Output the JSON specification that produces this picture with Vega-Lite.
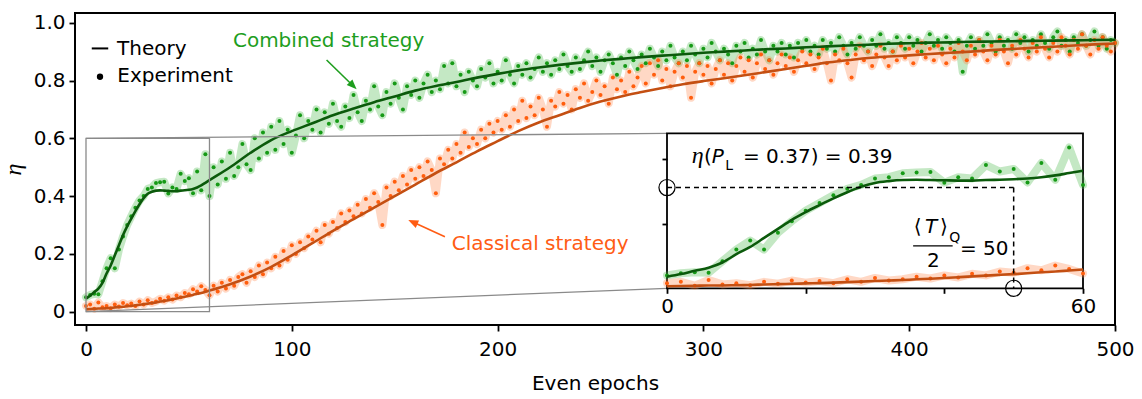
{
"$schema": "https://vega.github.io/schema/vega-lite/v6.json",
"width": 1040, "height": 312,
"autosize": "none",
"padding": {"left": 75, "top": 13, "right": 27, "bottom": 74},
"background": "white",
"config": {
 "view": {"stroke": "black", "strokeWidth": 2},
 "font": "DejaVu Sans",
 "axis": {"labelFont": "DejaVu Sans", "labelFontSize": 20, "labelColor": "black", "tickColor": "black", "tickWidth": 1.8, "domain": false, "grid": false, "titleFont": "DejaVu Sans", "titleFontSize": 20, "titleFontWeight": "normal", "titleColor": "black", "labelFlush": false},
 "text": {"font": "DejaVu Sans", "fontSize": 20}
},
"datasets": {
 "one": [{}],
 "exp": [
{"s":"g","x":0,"y":0.05},{"s":"g","x":2,"y":0.058},{"s":"g","x":4,"y":0.062},{"s":"g","x":6,"y":0.06},{"s":"g","x":8,"y":0.105},{"s":"g","x":10,"y":0.15},{"s":"g","x":12,"y":0.185},{"s":"g","x":14,"y":0.15},{"s":"g","x":16,"y":0.215},{"s":"g","x":18,"y":0.26},{"s":"g","x":20,"y":0.3},{"s":"g","x":22,"y":0.33},{"s":"g","x":24,"y":0.36},{"s":"g","x":26,"y":0.385},{"s":"g","x":28,"y":0.4},{"s":"g","x":30,"y":0.425},{"s":"g","x":32,"y":0.43},{"s":"g","x":34,"y":0.445},{"s":"g","x":36,"y":0.448},{"s":"g","x":38,"y":0.45},{"s":"g","x":40,"y":0.409},{"s":"g","x":42,"y":0.43},{"s":"g","x":44,"y":0.425},{"s":"g","x":46,"y":0.477},{"s":"g","x":48,"y":0.452},{"s":"g","x":50,"y":0.462},{"s":"g","x":52,"y":0.41},{"s":"g","x":54,"y":0.485},{"s":"g","x":56,"y":0.42},{"s":"g","x":58,"y":0.545},{"s":"g","x":60,"y":0.4},
{"s":"g","x":62,"y":0.5},{"s":"g","x":64,"y":0.44},{"s":"g","x":66,"y":0.52},{"s":"g","x":68,"y":0.46},{"s":"g","x":70,"y":0.55},{"s":"g","x":72,"y":0.47},{"s":"g","x":74,"y":0.5},{"s":"g","x":76,"y":0.58},{"s":"g","x":78,"y":0.51},{"s":"g","x":80,"y":0.49},
{"s":"g","x":82,"y":0.6},{"s":"g","x":84,"y":0.53},{"s":"g","x":86,"y":0.62},{"s":"g","x":88,"y":0.55},{"s":"g","x":90,"y":0.64},{"s":"g","x":92,"y":0.56},{"s":"g","x":94,"y":0.66},{"s":"g","x":96,"y":0.58},{"s":"g","x":98,"y":0.63},{"s":"g","x":100,"y":0.55},
{"s":"g","x":102,"y":0.61},{"s":"g","x":104,"y":0.68},{"s":"g","x":106,"y":0.6},{"s":"g","x":108,"y":0.66},{"s":"g","x":110,"y":0.63},{"s":"g","x":112,"y":0.7},{"s":"g","x":114,"y":0.62},{"s":"g","x":116,"y":0.69},{"s":"g","x":118,"y":0.65},{"s":"g","x":120,"y":0.72},
{"s":"g","x":122,"y":0.66},{"s":"g","x":124,"y":0.64},{"s":"g","x":126,"y":0.71},{"s":"g","x":128,"y":0.67},{"s":"g","x":130,"y":0.75},{"s":"g","x":132,"y":0.69},{"s":"g","x":134,"y":0.66},{"s":"g","x":136,"y":0.73},{"s":"g","x":138,"y":0.7},{"s":"g","x":140,"y":0.78},
{"s":"g","x":142,"y":0.71},{"s":"g","x":144,"y":0.68},{"s":"g","x":146,"y":0.76},{"s":"g","x":148,"y":0.72},{"s":"g","x":150,"y":0.79},{"s":"g","x":152,"y":0.74},{"s":"g","x":154,"y":0.7},{"s":"g","x":156,"y":0.78},{"s":"g","x":158,"y":0.75},{"s":"g","x":160,"y":0.8},
{"s":"g","x":162,"y":0.74},{"s":"g","x":164,"y":0.79},{"s":"g","x":166,"y":0.82},{"s":"g","x":168,"y":0.76},{"s":"g","x":170,"y":0.8},{"s":"g","x":172,"y":0.77},{"s":"g","x":174,"y":0.85},{"s":"g","x":176,"y":0.79},{"s":"g","x":178,"y":0.86},{"s":"g","x":180,"y":0.78},
{"s":"g","x":182,"y":0.82},{"s":"g","x":184,"y":0.76},{"s":"g","x":186,"y":0.83},{"s":"g","x":188,"y":0.8},{"s":"g","x":190,"y":0.78},{"s":"g","x":192,"y":0.84},{"s":"g","x":194,"y":0.81},{"s":"g","x":196,"y":0.86},{"s":"g","x":198,"y":0.79},{"s":"g","x":200,"y":0.83},
{"s":"g","x":202,"y":0.8},{"s":"g","x":204,"y":0.87},{"s":"g","x":206,"y":0.82},{"s":"g","x":208,"y":0.79},{"s":"g","x":210,"y":0.85},{"s":"g","x":212,"y":0.82},{"s":"g","x":214,"y":0.86},{"s":"g","x":216,"y":0.81},{"s":"g","x":218,"y":0.84},{"s":"g","x":220,"y":0.88},
{"s":"g","x":222,"y":0.83},{"s":"g","x":224,"y":0.86},{"s":"g","x":226,"y":0.82},{"s":"g","x":228,"y":0.87},{"s":"g","x":230,"y":0.84},{"s":"g","x":232,"y":0.89},{"s":"g","x":234,"y":0.85},{"s":"g","x":236,"y":0.83},{"s":"g","x":238,"y":0.88},{"s":"g","x":240,"y":0.84},
{"s":"g","x":242,"y":0.87},{"s":"g","x":244,"y":0.9},{"s":"g","x":246,"y":0.85},{"s":"g","x":248,"y":0.88},{"s":"g","x":250,"y":0.83},{"s":"g","x":252,"y":0.87},{"s":"g","x":254,"y":0.89},{"s":"g","x":256,"y":0.86},{"s":"g","x":258,"y":0.82},{"s":"g","x":260,"y":0.88},
{"s":"g","x":262,"y":0.85},{"s":"g","x":264,"y":0.9},{"s":"g","x":266,"y":0.87},{"s":"g","x":268,"y":0.84},{"s":"g","x":270,"y":0.89},{"s":"g","x":272,"y":0.86},{"s":"g","x":274,"y":0.91},{"s":"g","x":276,"y":0.88},{"s":"g","x":278,"y":0.85},{"s":"g","x":280,"y":0.9},
{"s":"g","x":282,"y":0.87},{"s":"g","x":284,"y":0.92},{"s":"g","x":286,"y":0.88},{"s":"g","x":288,"y":0.86},{"s":"g","x":290,"y":0.9},{"s":"g","x":292,"y":0.87},{"s":"g","x":294,"y":0.92},{"s":"g","x":296,"y":0.89},{"s":"g","x":298,"y":0.86},{"s":"g","x":300,"y":0.91},
{"s":"g","x":302,"y":0.88},{"s":"g","x":304,"y":0.93},{"s":"g","x":306,"y":0.9},{"s":"g","x":308,"y":0.87},{"s":"g","x":310,"y":0.91},{"s":"g","x":312,"y":0.89},{"s":"g","x":314,"y":0.86},{"s":"g","x":316,"y":0.92},{"s":"g","x":318,"y":0.9},{"s":"g","x":320,"y":0.93},
{"s":"g","x":322,"y":0.88},{"s":"g","x":324,"y":0.91},{"s":"g","x":326,"y":0.89},{"s":"g","x":328,"y":0.94},{"s":"g","x":330,"y":0.9},{"s":"g","x":332,"y":0.87},{"s":"g","x":334,"y":0.92},{"s":"g","x":336,"y":0.9},{"s":"g","x":338,"y":0.93},{"s":"g","x":340,"y":0.89},
{"s":"g","x":342,"y":0.92},{"s":"g","x":344,"y":0.88},{"s":"g","x":346,"y":0.93},{"s":"g","x":348,"y":0.91},{"s":"g","x":350,"y":0.94},{"s":"g","x":352,"y":0.9},{"s":"g","x":354,"y":0.92},{"s":"g","x":356,"y":0.89},{"s":"g","x":358,"y":0.94},{"s":"g","x":360,"y":0.91},
{"s":"g","x":362,"y":0.93},{"s":"g","x":364,"y":0.9},{"s":"g","x":366,"y":0.95},{"s":"g","x":368,"y":0.92},{"s":"g","x":370,"y":0.89},{"s":"g","x":372,"y":0.93},{"s":"g","x":374,"y":0.91},{"s":"g","x":376,"y":0.95},{"s":"g","x":378,"y":0.92},{"s":"g","x":380,"y":0.9},
{"s":"g","x":382,"y":0.94},{"s":"g","x":384,"y":0.92},{"s":"g","x":386,"y":0.96},{"s":"g","x":388,"y":0.91},{"s":"g","x":390,"y":0.93},{"s":"g","x":392,"y":0.9},{"s":"g","x":394,"y":0.95},{"s":"g","x":396,"y":0.93},{"s":"g","x":398,"y":0.91},{"s":"g","x":400,"y":0.95},
{"s":"g","x":402,"y":0.92},{"s":"g","x":404,"y":0.94},{"s":"g","x":406,"y":0.9},{"s":"g","x":408,"y":0.93},{"s":"g","x":410,"y":0.96},{"s":"g","x":412,"y":0.92},{"s":"g","x":414,"y":0.94},{"s":"g","x":416,"y":0.91},{"s":"g","x":418,"y":0.95},{"s":"g","x":420,"y":0.93},
{"s":"g","x":422,"y":0.9},{"s":"g","x":424,"y":0.94},{"s":"g","x":426,"y":0.83},{"s":"g","x":428,"y":0.92},{"s":"g","x":430,"y":0.95},{"s":"g","x":432,"y":0.91},{"s":"g","x":434,"y":0.94},{"s":"g","x":436,"y":0.92},{"s":"g","x":438,"y":0.96},{"s":"g","x":440,"y":0.93},
{"s":"g","x":442,"y":0.9},{"s":"g","x":444,"y":0.95},{"s":"g","x":446,"y":0.92},{"s":"g","x":448,"y":0.94},{"s":"g","x":450,"y":0.91},{"s":"g","x":452,"y":0.96},{"s":"g","x":454,"y":0.93},{"s":"g","x":456,"y":0.95},{"s":"g","x":458,"y":0.9},{"s":"g","x":460,"y":0.94},
{"s":"g","x":462,"y":0.92},{"s":"g","x":464,"y":0.96},{"s":"g","x":466,"y":0.93},{"s":"g","x":468,"y":0.91},{"s":"g","x":470,"y":0.95},{"s":"g","x":472,"y":0.97},{"s":"g","x":474,"y":0.92},{"s":"g","x":476,"y":0.94},{"s":"g","x":478,"y":0.9},{"s":"g","x":480,"y":0.95},
{"s":"g","x":482,"y":0.93},{"s":"g","x":484,"y":0.96},{"s":"g","x":486,"y":0.92},{"s":"g","x":488,"y":0.94},{"s":"g","x":490,"y":0.97},{"s":"g","x":492,"y":0.92},{"s":"g","x":494,"y":0.95},{"s":"g","x":496,"y":0.91},{"s":"g","x":498,"y":0.94},{"s":"g","x":500,"y":0.93},
{"s":"o","x":0,"y":0.02},{"s":"o","x":2,"y":0.025},{"s":"o","x":4,"y":0.01},{"s":"o","x":6,"y":0.032},{"s":"o","x":8,"y":0.015},{"s":"o","x":10,"y":0.02},{"s":"o","x":12,"y":0.012},{"s":"o","x":14,"y":0.025},{"s":"o","x":16,"y":0.018},{"s":"o","x":18,"y":0.03},{"s":"o","x":20,"y":0.022},{"s":"o","x":22,"y":0.028},{"s":"o","x":24,"y":0.02},{"s":"o","x":26,"y":0.035},{"s":"o","x":28,"y":0.025},{"s":"o","x":30,"y":0.04},{"s":"o","x":32,"y":0.03},{"s":"o","x":34,"y":0.035},{"s":"o","x":36,"y":0.045},{"s":"o","x":38,"y":0.038},{"s":"o","x":40,"y":0.05},{"s":"o","x":42,"y":0.042},{"s":"o","x":44,"y":0.056},{"s":"o","x":46,"y":0.05},{"s":"o","x":48,"y":0.065},{"s":"o","x":50,"y":0.06},{"s":"o","x":52,"y":0.078},{"s":"o","x":54,"y":0.07},{"s":"o","x":56,"y":0.088},{"s":"o","x":58,"y":0.075},{"s":"o","x":60,"y":0.057},
{"s":"o","x":62,"y":0.09},{"s":"o","x":64,"y":0.07},{"s":"o","x":66,"y":0.1},{"s":"o","x":68,"y":0.08},{"s":"o","x":70,"y":0.11},{"s":"o","x":72,"y":0.09},{"s":"o","x":74,"y":0.12},{"s":"o","x":76,"y":0.13},{"s":"o","x":78,"y":0.1},{"s":"o","x":80,"y":0.14},
{"s":"o","x":82,"y":0.12},{"s":"o","x":84,"y":0.16},{"s":"o","x":86,"y":0.13},{"s":"o","x":88,"y":0.17},{"s":"o","x":90,"y":0.15},{"s":"o","x":92,"y":0.19},{"s":"o","x":94,"y":0.16},{"s":"o","x":96,"y":0.21},{"s":"o","x":98,"y":0.18},{"s":"o","x":100,"y":0.23},
{"s":"o","x":102,"y":0.2},{"s":"o","x":104,"y":0.24},{"s":"o","x":106,"y":0.22},{"s":"o","x":108,"y":0.26},{"s":"o","x":110,"y":0.25},{"s":"o","x":112,"y":0.28},{"s":"o","x":114,"y":0.24},{"s":"o","x":116,"y":0.3},{"s":"o","x":118,"y":0.27},{"s":"o","x":120,"y":0.31},
{"s":"o","x":122,"y":0.29},{"s":"o","x":124,"y":0.34},{"s":"o","x":126,"y":0.31},{"s":"o","x":128,"y":0.35},{"s":"o","x":130,"y":0.33},{"s":"o","x":132,"y":0.37},{"s":"o","x":134,"y":0.34},{"s":"o","x":136,"y":0.39},{"s":"o","x":138,"y":0.36},{"s":"o","x":140,"y":0.41},
{"s":"o","x":142,"y":0.38},{"s":"o","x":144,"y":0.3},{"s":"o","x":146,"y":0.43},{"s":"o","x":148,"y":0.4},{"s":"o","x":150,"y":0.45},{"s":"o","x":152,"y":0.42},{"s":"o","x":154,"y":0.47},{"s":"o","x":156,"y":0.44},{"s":"o","x":158,"y":0.49},{"s":"o","x":160,"y":0.46},
{"s":"o","x":162,"y":0.5},{"s":"o","x":164,"y":0.47},{"s":"o","x":166,"y":0.52},{"s":"o","x":168,"y":0.49},{"s":"o","x":170,"y":0.41},{"s":"o","x":172,"y":0.53},{"s":"o","x":174,"y":0.51},{"s":"o","x":176,"y":0.56},{"s":"o","x":178,"y":0.53},{"s":"o","x":180,"y":0.58},
{"s":"o","x":182,"y":0.55},{"s":"o","x":184,"y":0.62},{"s":"o","x":186,"y":0.57},{"s":"o","x":188,"y":0.6},{"s":"o","x":190,"y":0.58},{"s":"o","x":192,"y":0.63},{"s":"o","x":194,"y":0.6},{"s":"o","x":196,"y":0.65},{"s":"o","x":198,"y":0.62},{"s":"o","x":200,"y":0.66},
{"s":"o","x":202,"y":0.63},{"s":"o","x":204,"y":0.68},{"s":"o","x":206,"y":0.64},{"s":"o","x":208,"y":0.7},{"s":"o","x":210,"y":0.66},{"s":"o","x":212,"y":0.73},{"s":"o","x":214,"y":0.67},{"s":"o","x":216,"y":0.71},{"s":"o","x":218,"y":0.68},{"s":"o","x":220,"y":0.74},
{"s":"o","x":222,"y":0.7},{"s":"o","x":224,"y":0.64},{"s":"o","x":226,"y":0.73},{"s":"o","x":228,"y":0.71},{"s":"o","x":230,"y":0.76},{"s":"o","x":232,"y":0.72},{"s":"o","x":234,"y":0.75},{"s":"o","x":236,"y":0.7},{"s":"o","x":238,"y":0.77},{"s":"o","x":240,"y":0.74},
{"s":"o","x":242,"y":0.79},{"s":"o","x":244,"y":0.73},{"s":"o","x":246,"y":0.76},{"s":"o","x":248,"y":0.8},{"s":"o","x":250,"y":0.75},{"s":"o","x":252,"y":0.78},{"s":"o","x":254,"y":0.72},{"s":"o","x":256,"y":0.81},{"s":"o","x":258,"y":0.77},{"s":"o","x":260,"y":0.8},
{"s":"o","x":262,"y":0.76},{"s":"o","x":264,"y":0.83},{"s":"o","x":266,"y":0.78},{"s":"o","x":268,"y":0.81},{"s":"o","x":270,"y":0.85},{"s":"o","x":272,"y":0.79},{"s":"o","x":274,"y":0.86},{"s":"o","x":276,"y":0.82},{"s":"o","x":278,"y":0.87},{"s":"o","x":280,"y":0.8},
{"s":"o","x":282,"y":0.84},{"s":"o","x":284,"y":0.78},{"s":"o","x":286,"y":0.83},{"s":"o","x":288,"y":0.86},{"s":"o","x":290,"y":0.81},{"s":"o","x":292,"y":0.85},{"s":"o","x":294,"y":0.74},{"s":"o","x":296,"y":0.83},{"s":"o","x":298,"y":0.86},{"s":"o","x":300,"y":0.82},
{"s":"o","x":302,"y":0.85},{"s":"o","x":304,"y":0.79},{"s":"o","x":306,"y":0.84},{"s":"o","x":308,"y":0.87},{"s":"o","x":310,"y":0.82},{"s":"o","x":312,"y":0.86},{"s":"o","x":314,"y":0.8},{"s":"o","x":316,"y":0.85},{"s":"o","x":318,"y":0.88},{"s":"o","x":320,"y":0.83},
{"s":"o","x":322,"y":0.87},{"s":"o","x":324,"y":0.81},{"s":"o","x":326,"y":0.86},{"s":"o","x":328,"y":0.89},{"s":"o","x":330,"y":0.84},{"s":"o","x":332,"y":0.87},{"s":"o","x":334,"y":0.82},{"s":"o","x":336,"y":0.86},{"s":"o","x":338,"y":0.89},{"s":"o","x":340,"y":0.85},
{"s":"o","x":342,"y":0.88},{"s":"o","x":344,"y":0.83},{"s":"o","x":346,"y":0.87},{"s":"o","x":348,"y":0.9},{"s":"o","x":350,"y":0.86},{"s":"o","x":352,"y":0.89},{"s":"o","x":354,"y":0.84},{"s":"o","x":356,"y":0.88},{"s":"o","x":358,"y":0.91},{"s":"o","x":360,"y":0.86},
{"s":"o","x":362,"y":0.8},{"s":"o","x":364,"y":0.89},{"s":"o","x":366,"y":0.87},{"s":"o","x":368,"y":0.91},{"s":"o","x":370,"y":0.86},{"s":"o","x":372,"y":0.81},{"s":"o","x":374,"y":0.89},{"s":"o","x":376,"y":0.92},{"s":"o","x":378,"y":0.87},{"s":"o","x":380,"y":0.9},
{"s":"o","x":382,"y":0.85},{"s":"o","x":384,"y":0.89},{"s":"o","x":386,"y":0.92},{"s":"o","x":388,"y":0.88},{"s":"o","x":390,"y":0.85},{"s":"o","x":392,"y":0.9},{"s":"o","x":394,"y":0.87},{"s":"o","x":396,"y":0.92},{"s":"o","x":398,"y":0.88},{"s":"o","x":400,"y":0.91},
{"s":"o","x":402,"y":0.86},{"s":"o","x":404,"y":0.9},{"s":"o","x":406,"y":0.93},{"s":"o","x":408,"y":0.88},{"s":"o","x":410,"y":0.91},{"s":"o","x":412,"y":0.87},{"s":"o","x":414,"y":0.92},{"s":"o","x":416,"y":0.89},{"s":"o","x":418,"y":0.86},{"s":"o","x":420,"y":0.91},
{"s":"o","x":422,"y":0.88},{"s":"o","x":424,"y":0.93},{"s":"o","x":426,"y":0.9},{"s":"o","x":428,"y":0.87},{"s":"o","x":430,"y":0.92},{"s":"o","x":432,"y":0.89},{"s":"o","x":434,"y":0.94},{"s":"o","x":436,"y":0.9},{"s":"o","x":438,"y":0.87},{"s":"o","x":440,"y":0.92},
{"s":"o","x":442,"y":0.89},{"s":"o","x":444,"y":0.94},{"s":"o","x":446,"y":0.9},{"s":"o","x":448,"y":0.86},{"s":"o","x":450,"y":0.92},{"s":"o","x":452,"y":0.89},{"s":"o","x":454,"y":0.94},{"s":"o","x":456,"y":0.91},{"s":"o","x":458,"y":0.88},{"s":"o","x":460,"y":0.93},
{"s":"o","x":462,"y":0.9},{"s":"o","x":464,"y":0.95},{"s":"o","x":466,"y":0.91},{"s":"o","x":468,"y":0.88},{"s":"o","x":470,"y":0.93},{"s":"o","x":472,"y":0.9},{"s":"o","x":474,"y":0.95},{"s":"o","x":476,"y":0.92},{"s":"o","x":478,"y":0.89},{"s":"o","x":480,"y":0.94},
{"s":"o","x":482,"y":0.91},{"s":"o","x":484,"y":0.96},{"s":"o","x":486,"y":0.92},{"s":"o","x":488,"y":0.89},{"s":"o","x":490,"y":0.94},{"s":"o","x":492,"y":0.91},{"s":"o","x":494,"y":0.95},{"s":"o","x":496,"y":0.92},{"s":"o","x":498,"y":0.9},{"s":"o","x":500,"y":0.93}
 ],
 "th": [
{"s":"g","x":0,"y":0.045},{"s":"g","x":2,"y":0.055},{"s":"g","x":4,"y":0.068},{"s":"g","x":6,"y":0.08},{"s":"g","x":8,"y":0.1},{"s":"g","x":10,"y":0.132},{"s":"g","x":12,"y":0.16},{"s":"g","x":14,"y":0.195},{"s":"g","x":16,"y":0.23},{"s":"g","x":18,"y":0.265},{"s":"g","x":20,"y":0.295},{"s":"g","x":22,"y":0.322},{"s":"g","x":24,"y":0.348},{"s":"g","x":26,"y":0.372},{"s":"g","x":28,"y":0.393},{"s":"g","x":30,"y":0.408},{"s":"g","x":32,"y":0.415},{"s":"g","x":34,"y":0.419},{"s":"g","x":36,"y":0.42},{"s":"g","x":38,"y":0.419},{"s":"g","x":40,"y":0.418},{"s":"g","x":42,"y":0.417},{"s":"g","x":44,"y":0.417},{"s":"g","x":46,"y":0.419},{"s":"g","x":48,"y":0.42},{"s":"g","x":50,"y":0.422},{"s":"g","x":52,"y":0.425},{"s":"g","x":54,"y":0.43},{"s":"g","x":56,"y":0.437},{"s":"g","x":58,"y":0.446},{"s":"g","x":60,"y":0.455},
{"s":"g","x":70,"y":0.5},{"s":"g","x":80,"y":0.55},{"s":"g","x":90,"y":0.594},{"s":"g","x":100,"y":0.625},{"s":"g","x":110,"y":0.652},{"s":"g","x":120,"y":0.68},{"s":"g","x":130,"y":0.703},{"s":"g","x":140,"y":0.725},{"s":"g","x":150,"y":0.745},{"s":"g","x":160,"y":0.765},{"s":"g","x":170,"y":0.781},{"s":"g","x":180,"y":0.795},{"s":"g","x":190,"y":0.81},{"s":"g","x":200,"y":0.823},{"s":"g","x":210,"y":0.835},{"s":"g","x":220,"y":0.845},{"s":"g","x":230,"y":0.854},{"s":"g","x":240,"y":0.862},{"s":"g","x":250,"y":0.869},{"s":"g","x":260,"y":0.875},{"s":"g","x":270,"y":0.881},{"s":"g","x":280,"y":0.886},{"s":"g","x":290,"y":0.891},{"s":"g","x":300,"y":0.896},{"s":"g","x":310,"y":0.9},{"s":"g","x":320,"y":0.904},{"s":"g","x":330,"y":0.908},{"s":"g","x":340,"y":0.911},{"s":"g","x":350,"y":0.915},{"s":"g","x":360,"y":0.918},{"s":"g","x":370,"y":0.921},{"s":"g","x":380,"y":0.924},{"s":"g","x":390,"y":0.927},{"s":"g","x":400,"y":0.929},{"s":"g","x":410,"y":0.931},{"s":"g","x":420,"y":0.932},{"s":"g","x":430,"y":0.934},{"s":"g","x":440,"y":0.935},{"s":"g","x":450,"y":0.936},{"s":"g","x":460,"y":0.937},{"s":"g","x":470,"y":0.938},{"s":"g","x":480,"y":0.939},{"s":"g","x":490,"y":0.94},{"s":"g","x":500,"y":0.941},
{"s":"o","x":0,"y":0.008},{"s":"o","x":2,"y":0.009},{"s":"o","x":4,"y":0.01},{"s":"o","x":6,"y":0.011},{"s":"o","x":8,"y":0.011},{"s":"o","x":10,"y":0.012},{"s":"o","x":12,"y":0.013},{"s":"o","x":14,"y":0.015},{"s":"o","x":16,"y":0.016},{"s":"o","x":18,"y":0.017},{"s":"o","x":20,"y":0.019},{"s":"o","x":22,"y":0.02},{"s":"o","x":24,"y":0.022},{"s":"o","x":26,"y":0.024},{"s":"o","x":28,"y":0.026},{"s":"o","x":30,"y":0.028},{"s":"o","x":32,"y":0.03},{"s":"o","x":34,"y":0.032},{"s":"o","x":36,"y":0.035},{"s":"o","x":38,"y":0.037},{"s":"o","x":40,"y":0.04},{"s":"o","x":42,"y":0.043},{"s":"o","x":44,"y":0.046},{"s":"o","x":46,"y":0.049},{"s":"o","x":48,"y":0.052},{"s":"o","x":50,"y":0.055},{"s":"o","x":52,"y":0.058},{"s":"o","x":54,"y":0.062},{"s":"o","x":56,"y":0.065},{"s":"o","x":58,"y":0.069},{"s":"o","x":60,"y":0.073},
{"s":"o","x":70,"y":0.095},{"s":"o","x":80,"y":0.122},{"s":"o","x":90,"y":0.155},{"s":"o","x":100,"y":0.195},{"s":"o","x":110,"y":0.237},{"s":"o","x":120,"y":0.28},{"s":"o","x":130,"y":0.32},{"s":"o","x":140,"y":0.36},{"s":"o","x":150,"y":0.4},{"s":"o","x":160,"y":0.44},{"s":"o","x":170,"y":0.48},{"s":"o","x":180,"y":0.517},{"s":"o","x":190,"y":0.555},{"s":"o","x":200,"y":0.59},{"s":"o","x":210,"y":0.625},{"s":"o","x":220,"y":0.655},{"s":"o","x":230,"y":0.68},{"s":"o","x":240,"y":0.705},{"s":"o","x":250,"y":0.727},{"s":"o","x":260,"y":0.745},{"s":"o","x":270,"y":0.76},{"s":"o","x":280,"y":0.774},{"s":"o","x":290,"y":0.787},{"s":"o","x":300,"y":0.798},{"s":"o","x":310,"y":0.808},{"s":"o","x":320,"y":0.818},{"s":"o","x":330,"y":0.829},{"s":"o","x":340,"y":0.84},{"s":"o","x":350,"y":0.851},{"s":"o","x":360,"y":0.862},{"s":"o","x":370,"y":0.87},{"s":"o","x":380,"y":0.878},{"s":"o","x":390,"y":0.883},{"s":"o","x":400,"y":0.887},{"s":"o","x":410,"y":0.892},{"s":"o","x":420,"y":0.896},{"s":"o","x":430,"y":0.9},{"s":"o","x":440,"y":0.905},{"s":"o","x":450,"y":0.909},{"s":"o","x":460,"y":0.913},{"s":"o","x":470,"y":0.917},{"s":"o","x":480,"y":0.921},{"s":"o","x":490,"y":0.925},{"s":"o","x":500,"y":0.928}
 ]
},
"layer": [
 {
  "resolve": {"scale": {"color": "independent"}},
  "layer": [
   {"data": {"name": "exp"},
    "mark": {"type": "line", "strokeWidth": 8, "opacity": 0.33, "strokeJoin": "round", "strokeCap": "round"},
    "encoding": {
     "x": {"field": "x", "type": "quantitative", "scale": {"domain": [-5.345, 500], "nice": false, "zero": false},
       "axis": {"orient": "bottom", "values": [0,100,200,300,400,500], "format": "d", "tickSize": 6, "labelPadding": 8, "title": "Even epochs", "titlePadding": 14}},
     "y": {"field": "y", "type": "quantitative", "scale": {"domain": [-0.046, 1.0336], "nice": false, "zero": false},
       "axis": {"orient": "left", "values": [0,0.2,0.4,0.6,0.8,1], "labelExpr": "datum.value == 0 ? '0' : format(datum.value, '.1f')", "tickSize": 6, "labelPadding": 4, "title": "η", "titleFont": "Liberation Serif", "titleFontStyle": "italic", "titleFontSize": 24, "titlePadding": 8}},
     "color": {"field": "s", "type": "nominal", "scale": {"domain": ["g","o"], "range": ["#4cb84c","#ff8a50"]}, "legend": null}
    }},
   {"data": {"name": "exp"},
    "mark": {"type": "circle", "size": 16, "opacity": 1},
    "encoding": {
     "x": {"field": "x", "type": "quantitative"},
     "y": {"field": "y", "type": "quantitative"},
     "color": {"field": "s", "type": "nominal", "scale": {"domain": ["g","o"], "range": ["#169a16","#ff5e0e"]}, "legend": null}
    }},
   {"data": {"name": "th"},
    "mark": {"type": "line", "strokeWidth": 2.6, "interpolate": "monotone"},
    "encoding": {
     "x": {"field": "x", "type": "quantitative"},
     "y": {"field": "y", "type": "quantitative"},
     "color": {"field": "s", "type": "nominal", "scale": {"domain": ["g","o"], "range": ["#0b5a0b","#c44f12"]}, "legend": null}
    }},
   {"data": {"name": "one"}, "mark": {"type": "rect", "fillOpacity": 0, "stroke": "#8a8a8a", "strokeWidth": 1.3},
    "encoding": {"x": {"datum": 0, "type": "quantitative"}, "x2": {"datum": 60}, "y": {"datum": 0, "type": "quantitative"}, "y2": {"datum": 0.6}}},
   {"data": {"name": "one"}, "mark": {"type": "rule", "stroke": "#8a8a8a", "strokeWidth": 1.3},
    "encoding": {"x": {"datum": 0, "type": "quantitative"}, "x2": {"datum": 282.3}, "y": {"datum": 0.6, "type": "quantitative"}, "y2": {"datum": 0.617}}},
   {"data": {"name": "one"}, "mark": {"type": "rule", "stroke": "#8a8a8a", "strokeWidth": 1.3},
    "encoding": {"x": {"datum": 0, "type": "quantitative"}, "x2": {"datum": 282.3}, "y": {"datum": 0, "type": "quantitative"}, "y2": {"datum": 0.081}}},
   {"data": {"name": "one"}, "mark": {"type": "rule", "stroke": "black", "strokeWidth": 2},
    "encoding": {"x": {"datum": 2.8, "type": "quantitative"}, "x2": {"datum": 10.8}, "y": {"datum": 0.911, "type": "quantitative"}}},
   {"data": {"name": "one"}, "mark": {"type": "circle", "size": 40, "color": "black", "opacity": 1},
    "encoding": {"x": {"datum": 6.8, "type": "quantitative"}, "y": {"datum": 0.813, "type": "quantitative"}}},
   {"data": {"name": "one"}, "mark": {"type": "text", "text": "Theory", "align": "left", "baseline": "alphabetic", "color": "black"},
    "encoding": {"x": {"datum": 15.1, "type": "quantitative"}, "y": {"datum": 0.888, "type": "quantitative"}}},
   {"data": {"name": "one"}, "mark": {"type": "text", "text": "Experiment", "align": "left", "baseline": "alphabetic", "color": "black"},
    "encoding": {"x": {"datum": 15.2, "type": "quantitative"}, "y": {"datum": 0.796, "type": "quantitative"}}},
   {"data": {"name": "one"}, "mark": {"type": "text", "text": "Combined strategy", "align": "left", "baseline": "alphabetic", "color": "#1e9e1e"},
    "encoding": {"x": {"datum": 71.4, "type": "quantitative"}, "y": {"datum": 0.916, "type": "quantitative"}}},
   {"data": {"name": "one"}, "mark": {"type": "text", "text": "Classical strategy", "align": "left", "baseline": "alphabetic", "color": "#ff5c14"},
    "encoding": {"x": {"datum": 177.7, "type": "quantitative"}, "y": {"datum": 0.2135, "type": "quantitative"}}},
   {"data": {"name": "one"}, "mark": {"type": "rule", "stroke": "#1e9e1e", "strokeWidth": 1.6},
    "encoding": {"x": {"datum": 116.9, "type": "quantitative"}, "x2": {"datum": 130}, "y": {"datum": 0.871, "type": "quantitative"}, "y2": {"datum": 0.78}}},
   {"data": {"name": "one"}, "mark": {"type": "point", "shape": "M0,0L-0.8,2L0.8,2Z", "size": 100, "angle": 135, "filled": true, "color": "#1e9e1e", "opacity": 1},
    "encoding": {"x": {"datum": 131.5, "type": "quantitative"}, "y": {"datum": 0.7696, "type": "quantitative"}}},
   {"data": {"name": "one"}, "mark": {"type": "rule", "stroke": "#ff5c14", "strokeWidth": 1.6},
    "encoding": {"x": {"datum": 174.4, "type": "quantitative"}, "x2": {"datum": 158.5}, "y": {"datum": 0.2595, "type": "quantitative"}, "y2": {"datum": 0.311}}},
   {"data": {"name": "one"}, "mark": {"type": "point", "shape": "M0,0L-0.8,2L0.8,2Z", "size": 100, "angle": 294.5, "filled": true, "color": "#ff5c14", "opacity": 1},
    "encoding": {"x": {"datum": 156.6, "type": "quantitative"}, "y": {"datum": 0.317, "type": "quantitative"}}}
  ]
 },
 {
  "resolve": {"scale": {"color": "independent"}},
  "layer": [
   {"data": {"name": "one"}, "mark": {"type": "rect", "fill": "white", "stroke": "black", "strokeWidth": 1.8},
    "encoding": {
     "x": {"datum": 0, "type": "quantitative", "scale": {"domain": [0, 60], "range": [592, 1008], "nice": false, "zero": false},
       "axis": {"orient": "bottom", "offset": -36.7, "values": [0,20,40,60], "labelExpr": "datum.value == 0 || datum.value == 60 ? datum.label : ''", "tickSize": 5, "labelPadding": 3, "labelFlush": false, "title": null, "zindex": 1}},
     "x2": {"datum": 60},
     "y": {"datum": 0, "type": "quantitative", "scale": {"domain": [0, 0.6], "range": [275.3, 120.3], "nice": false, "zero": false},
       "axis": {"orient": "left", "offset": -592, "values": [0.25, 0.5], "labels": false, "tickSize": 5, "title": null, "zindex": 1}},
     "y2": {"datum": 0.6}
    }},
   {"data": {"name": "exp"}, "transform": [{"filter": "datum.x <= 60"}],
    "mark": {"type": "line", "strokeWidth": 8, "opacity": 0.33, "strokeJoin": "round", "strokeCap": "round"},
    "encoding": {
     "x": {"field": "x", "type": "quantitative"},
     "y": {"field": "y", "type": "quantitative"},
     "color": {"field": "s", "type": "nominal", "scale": {"domain": ["g","o"], "range": ["#4cb84c","#ff8a50"]}, "legend": null}
    }},
   {"data": {"name": "exp"}, "transform": [{"filter": "datum.x <= 60"}],
    "mark": {"type": "circle", "size": 16, "opacity": 1},
    "encoding": {
     "x": {"field": "x", "type": "quantitative"},
     "y": {"field": "y", "type": "quantitative"},
     "color": {"field": "s", "type": "nominal", "scale": {"domain": ["g","o"], "range": ["#169a16","#ff5e0e"]}, "legend": null}
    }},
   {"data": {"name": "th"}, "transform": [{"filter": "datum.x <= 60"}],
    "mark": {"type": "line", "strokeWidth": 2.6, "interpolate": "monotone"},
    "encoding": {
     "x": {"field": "x", "type": "quantitative"},
     "y": {"field": "y", "type": "quantitative"},
     "color": {"field": "s", "type": "nominal", "scale": {"domain": ["g","o"], "range": ["#0b5a0b","#c44f12"]}, "legend": null}
    }},
   {"data": {"name": "one"}, "mark": {"type": "rule", "stroke": "black", "strokeWidth": 1.5, "strokeDash": [5, 4]},
    "encoding": {"x": {"datum": 0, "type": "quantitative"}, "x2": {"datum": 50}, "y": {"datum": 0.39, "type": "quantitative"}}},
   {"data": {"name": "one"}, "mark": {"type": "rule", "stroke": "black", "strokeWidth": 1.5, "strokeDash": [5, 4]},
    "encoding": {"x": {"datum": 50, "type": "quantitative"}, "y": {"datum": 0.39, "type": "quantitative"}, "y2": {"datum": 0}}},
   {"data": {"values": [{"x": 0, "y": 0.39}, {"x": 50, "y": 0}]},
    "mark": {"type": "point", "shape": "circle", "size": 260, "filled": false, "stroke": "black", "strokeWidth": 1.2, "opacity": 1},
    "encoding": {"x": {"field": "x", "type": "quantitative"}, "y": {"field": "y", "type": "quantitative"}}},
   {"data": {"name": "one"}, "mark": {"type": "text", "text": "η", "align": "left", "baseline": "alphabetic", "font": "Liberation Serif", "fontStyle": "italic", "fontSize": 24, "color": "black"},
    "encoding": {"x": {"datum": 3.56, "type": "quantitative"}, "y": {"datum": 0.485, "type": "quantitative"}}},
   {"data": {"name": "one"}, "mark": {"type": "text", "text": "(", "align": "left", "baseline": "alphabetic", "color": "black"},
    "encoding": {"x": {"datum": 5.34, "type": "quantitative"}, "y": {"datum": 0.485, "type": "quantitative"}}},
   {"data": {"name": "one"}, "mark": {"type": "text", "text": "P", "align": "left", "baseline": "alphabetic", "fontStyle": "italic", "color": "black"},
    "encoding": {"x": {"datum": 6.45, "type": "quantitative"}, "y": {"datum": 0.485, "type": "quantitative"}}},
   {"data": {"name": "one"}, "mark": {"type": "text", "text": "L", "align": "left", "baseline": "alphabetic", "fontSize": 14, "color": "black"},
    "encoding": {"x": {"datum": 8.4, "type": "quantitative"}, "y": {"datum": 0.458, "type": "quantitative"}}},
   {"data": {"name": "one"}, "mark": {"type": "text", "text": "= 0.37) = 0.39", "align": "left", "baseline": "alphabetic", "color": "black"},
    "encoding": {"x": {"datum": 10.96, "type": "quantitative"}, "y": {"datum": 0.485, "type": "quantitative"}}},
   {"data": {"name": "one"}, "mark": {"type": "text", "text": "⟨", "align": "left", "baseline": "alphabetic", "color": "black"},
    "encoding": {"x": {"datum": 35.6, "type": "quantitative"}, "y": {"datum": 0.213, "type": "quantitative"}}},
   {"data": {"name": "one"}, "mark": {"type": "text", "text": "T", "align": "center", "baseline": "alphabetic", "fontStyle": "italic", "color": "black"},
    "encoding": {"x": {"datum": 38.1, "type": "quantitative"}, "y": {"datum": 0.213, "type": "quantitative"}}},
   {"data": {"name": "one"}, "mark": {"type": "text", "text": "⟩", "align": "right", "baseline": "alphabetic", "color": "black"},
    "encoding": {"x": {"datum": 40.5, "type": "quantitative"}, "y": {"datum": 0.213, "type": "quantitative"}}},
   {"data": {"name": "one"}, "mark": {"type": "text", "text": "Q", "align": "left", "baseline": "alphabetic", "fontSize": 14, "color": "black"},
    "encoding": {"x": {"datum": 40.7, "type": "quantitative"}, "y": {"datum": 0.18, "type": "quantitative"}}},
   {"data": {"name": "one"}, "mark": {"type": "rule", "stroke": "black", "strokeWidth": 1.3},
    "encoding": {"x": {"datum": 35.5, "type": "quantitative"}, "x2": {"datum": 41.2}, "y": {"datum": 0.164, "type": "quantitative"}}},
   {"data": {"name": "one"}, "mark": {"type": "text", "text": "2", "align": "center", "baseline": "alphabetic", "color": "black"},
    "encoding": {"x": {"datum": 38.4, "type": "quantitative"}, "y": {"datum": 0.0836, "type": "quantitative"}}},
   {"data": {"name": "one"}, "mark": {"type": "text", "text": "= 50", "align": "left", "baseline": "alphabetic", "color": "black"},
    "encoding": {"x": {"datum": 42.26, "type": "quantitative"}, "y": {"datum": 0.129, "type": "quantitative"}}}
  ]
 }
],
"resolve": {"scale": {"x": "independent", "y": "independent"}, "axis": {"x": "independent", "y": "independent"}}
}
